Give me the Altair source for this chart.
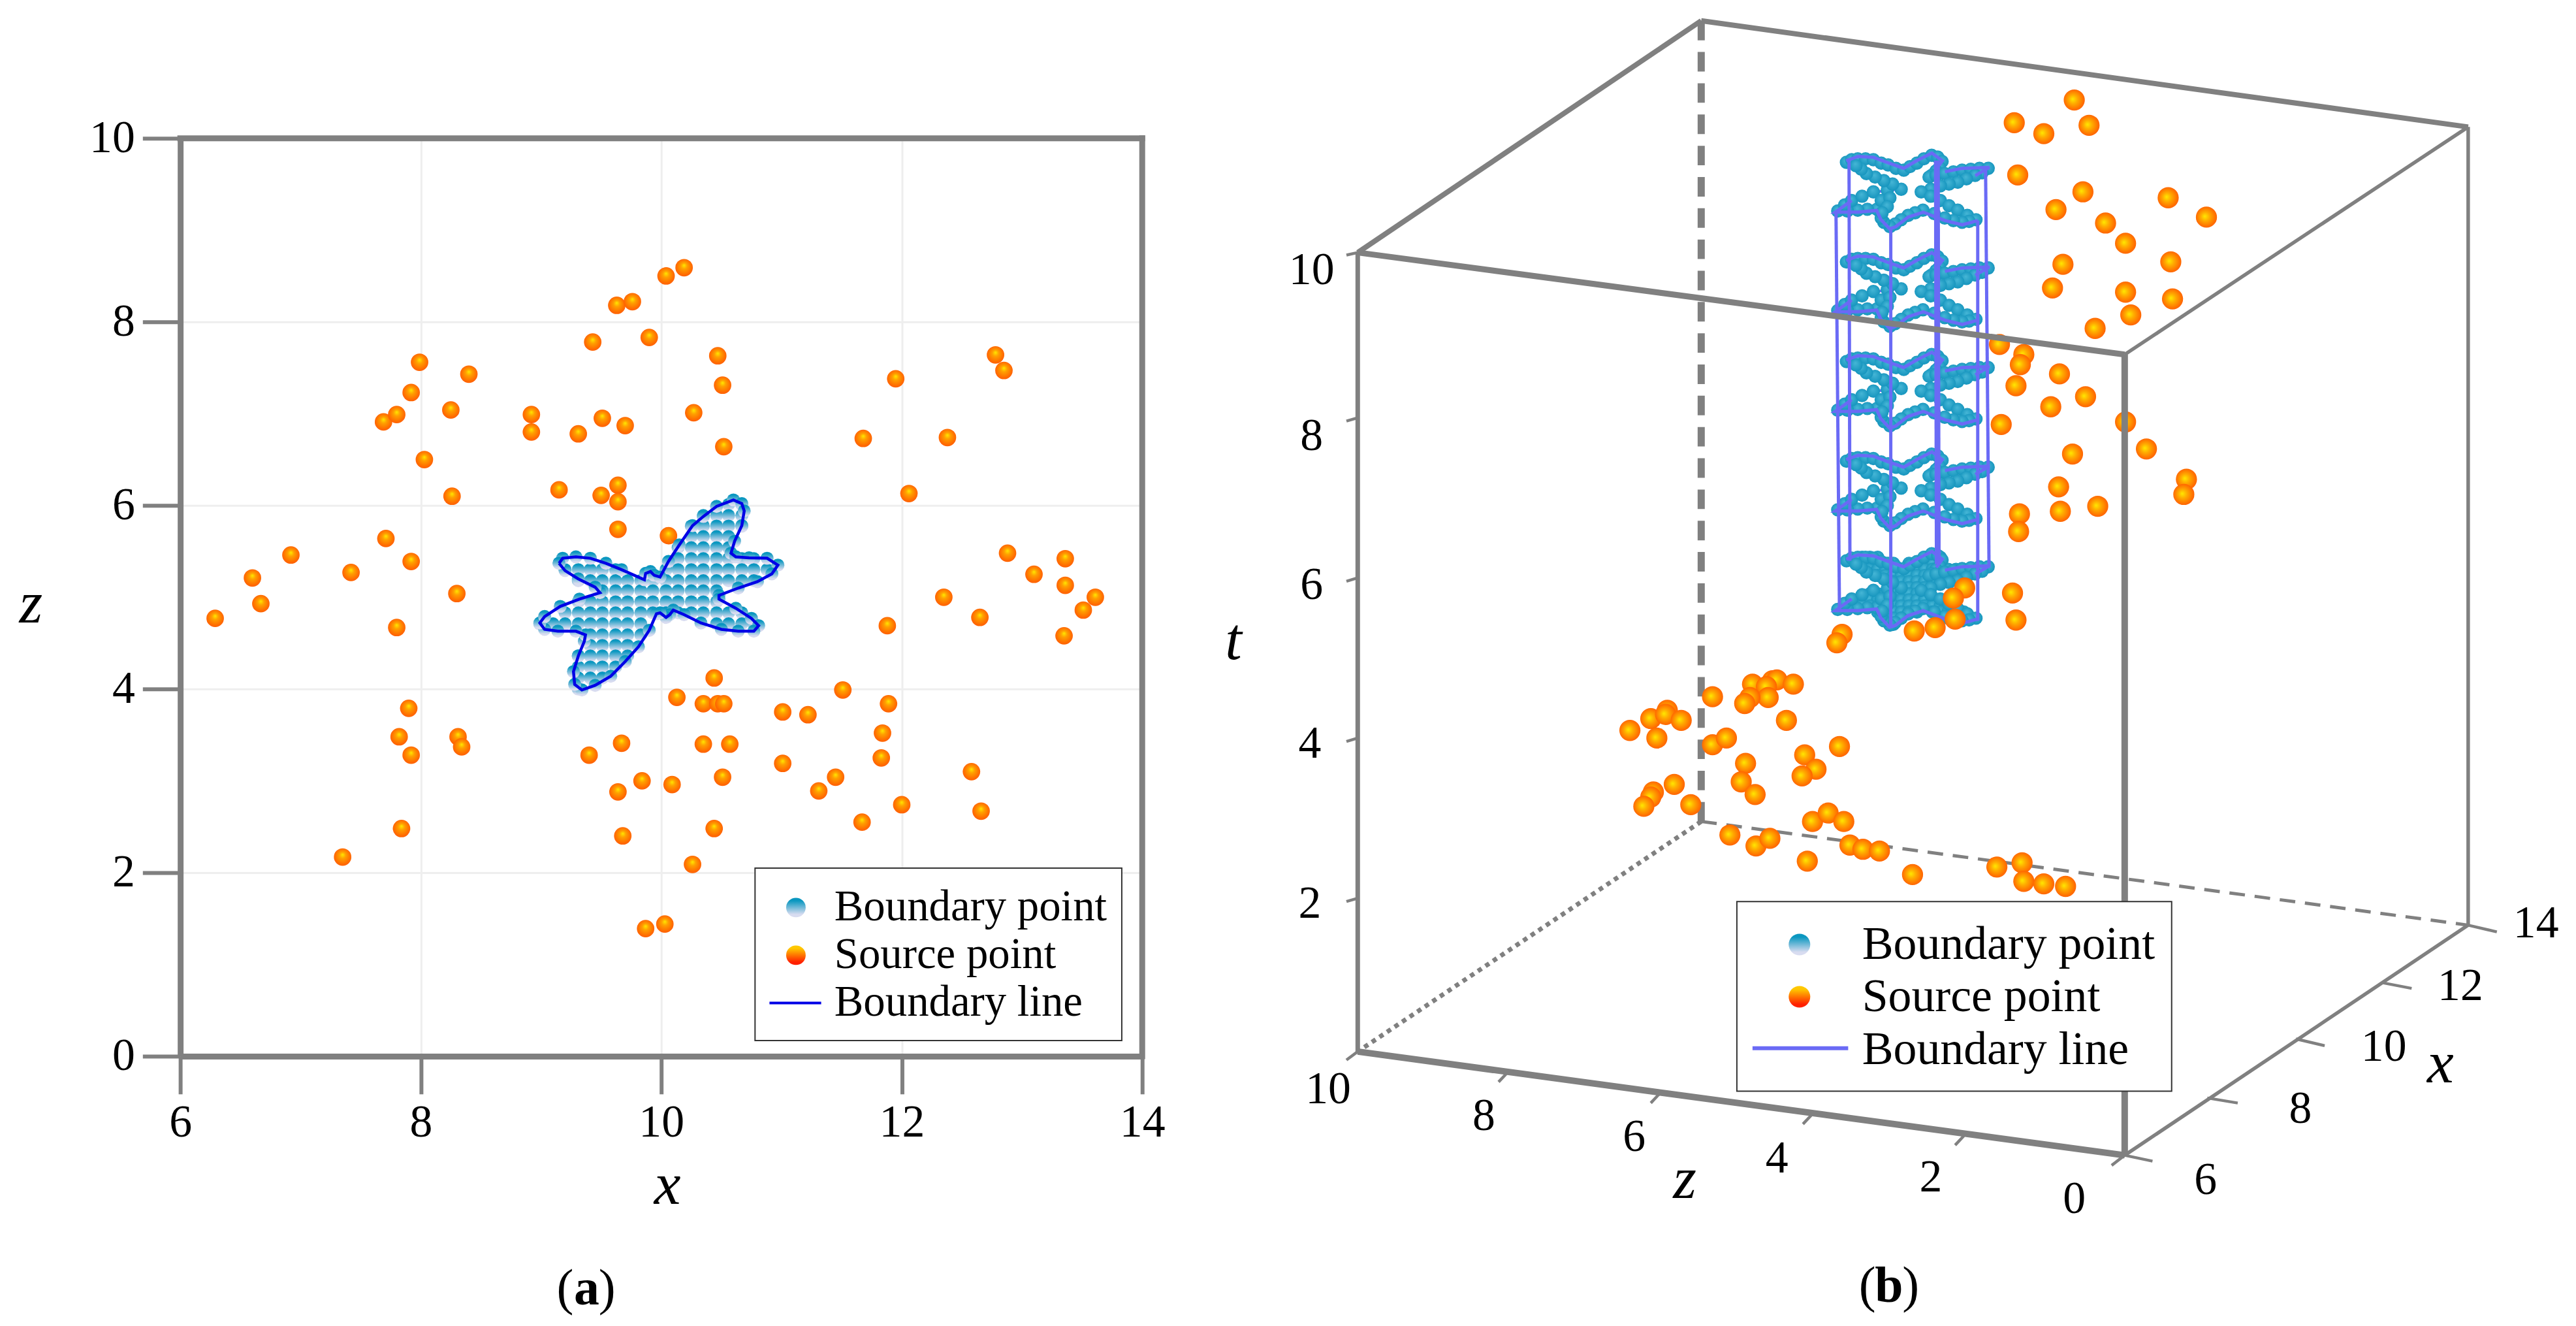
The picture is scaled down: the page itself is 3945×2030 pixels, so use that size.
import altair as alt
import pandas as pd

FONT = "Liberation Serif"
GRAY = "#808080"

# ---------- panel (a): values in x / z units ----------
source_x = [6.29,6.60,6.67,6.92,7.42,7.35,7.69,7.80,7.71,7.92,7.99,8.40,8.25,8.03,8.26,7.92,7.80,8.30,7.90,7.82,7.92,8.31,8.34,7.84,
            8.92,8.92,9.31,9.51,9.70,9.15,9.50,9.64,9.64,9.64,9.43,9.63,9.76,9.90,10.04,10.19,10.47,10.51,10.27,10.52,10.06,
            11.68,11.95,12.38,12.78,12.85,12.06,12.88,13.10,13.36,13.36,13.61,13.51,13.35,12.35,12.65,11.88,
            10.44,10.13,10.35,10.47,10.52,11.51,11.89,11.01,11.22,11.84,11.83,10.35,10.57,9.67,9.40,11.01,11.45,11.31,10.51,
            9.84,10.09,9.64,9.68,10.44,11.67,12.00,12.58,12.66,10.26,10.03,9.87]
source_z = [4.77,5.21,4.93,5.46,5.27,2.17,6.91,6.99,5.64,7.23,7.56,7.43,7.04,6.50,6.10,5.39,4.67,5.04,3.79,3.48,3.28,3.48,3.37,2.48,
            6.99,6.80,6.78,6.95,6.87,6.17,6.11,6.22,6.04,5.74,7.78,8.18,8.22,7.83,8.50,8.59,7.63,7.31,7.01,6.64,5.67,
            6.73,7.38,6.74,7.64,7.47,6.13,5.48,5.25,5.42,5.13,5.00,4.86,4.58,5.00,4.78,4.69,
            4.12,3.91,3.84,3.84,3.84,3.99,3.84,3.75,3.72,3.52,3.25,3.40,3.40,3.41,3.28,3.19,3.04,2.89,3.04,
            3.00,2.96,2.88,2.40,2.48,2.55,2.74,3.10,2.67,2.09,1.44,1.39]

outline_x = [9.15,9.18,9.29,9.41,9.54,9.67,9.86,9.87,9.91,9.94,9.99,10.06,10.15,10.26,10.35,10.46,10.60,10.67,10.69,10.67,10.61,10.58,10.62,
             10.73,10.88,10.97,10.92,10.80,10.64,10.48,10.48,10.62,10.75,10.81,10.77,10.64,10.50,10.33,10.19,10.10,10.07,10.04,9.99,9.96,
             9.90,9.81,9.70,9.58,9.45,9.34,9.28,9.27,9.31,9.36,9.37,9.29,9.14,9.03,8.99,9.03,9.16,9.32,9.49,9.45,9.31,9.20,9.15]
outline_z = [5.37,5.425,5.44,5.425,5.37,5.30,5.19,5.26,5.28,5.24,5.22,5.39,5.57,5.78,5.88,5.99,6.06,6.02,5.94,5.78,5.61,5.48,5.44,
             5.43,5.425,5.35,5.255,5.17,5.10,5.02,4.98,4.88,4.77,4.69,4.63,4.63,4.65,4.72,4.81,4.86,4.81,4.78,4.83,4.82,
             4.64,4.46,4.30,4.14,4.04,3.99,4.05,4.19,4.36,4.52,4.59,4.63,4.63,4.65,4.72,4.79,4.90,4.98,5.05,5.11,5.20,5.29,5.37]

grid_cols = [8.99,9.10,9.20,9.31,9.41,9.51,9.62,9.72,9.83,9.93,10.04,10.14,10.25,10.35,10.46,10.56,10.67,10.77,10.88]
grid_rows = [6.01,5.89,5.775,5.66,5.54,5.42,5.30,5.18,5.07,4.95,4.83,4.71,4.59,4.475,4.36,4.24,4.12,4.00]
grid_mask = [
    "...............##..",
    ".............####..",
    "............#####..",
    "............####...",
    "...........#####...",
    "...........#######.",
    "..#####...#########",
    "...###############.",
    ".....##########....",
    "...############....",
    "..###############..",
    "#########.....####.",
    "....#####..........",
    "....####...........",
    "...#####...........",
    "...####............",
    "...###.............",
    "...#...............",
]

legend_a = ["Boundary point", "Source point", "Boundary line"]

# ---------- panel (b): projected picture units (u, v) ----------
ball_u = [928,962,997,1014,932,976,1007,1033,1056,1105,1149,984,972,1108,1056,1110,1062,1021,
          911,939,935,930,980,1010,970,913,1056,1080,995,1126,1123,979,981,934,933,1024,
          926,930,871,858,860,837,813,730,724,
          581,627,650,655,674,643,645,624,618,666,486,510,529,527,545,517,581,597,727,687,619,700,684,614,630,537,513,510,502,556,
          696,714,732,601,631,647,690,739,754,773,811,908,937,939,962,987]
ball_v = [143,156,116,146,205,246,225,262,286,232,255,311,339,308,344,352,371,387,
          406,418,430,455,441,468,480,501,498,530,536,566,584,575,604,607,628,598,
          701,733,695,707,732,742,746,750,760,
          824,809,805,804,809,812,825,825,832,852,864,850,840,845,852,873,881,873,883,893,903,910,918,925,940,928,937,943,954,952,
          972,962,972,988,1001,992,1019,1000,1005,1007,1035,1026,1021,1043,1046,1049]

STAR_V = 1.0322  # the star lists below were read at a slightly different vertical picture scale
star_u = [734.7,748.5,765.9,783.4,800.8,815.8,833.3,845.3,838.3,829.5,848.3,868.2,899.4,883.2,863.2,843.3,820.8,843.3,863.2,886.2,
          868.2,848.3,823.3,805.8,790.9,784.6,774.6,769.7,748.5,722.3,741,765.9,798.4,778.4,758.4,746,734.7]
star_v = [182.2,177.2,178.3,184.8,190.9,182.2,173.4,182.2,191.7,199.3,194.8,190.9,189.8,199.3,207,210.8,218.4,228,239.4,250.9,
          255.8,250.9,241.3,247.1,258.5,260.4,249.7,239.4,241.3,241.3,228,218.4,214.6,205,197.4,187.9,182.2]
# the stretches of the outline that show in front of the balls
star_front = [(0,8),(10,13),(19,30)]
ring_u = [735,741,748,757,766,775,783,792,801,808,816,824,833,840,845,842,838,833,830,838,848,858,868,878,888,898,891,883,873,863,
          853,843,832,821,832,843,853,863,874,884,876,868,858,848,836,823,814,806,798,791,785,778,775,770,759,748,736,725,733,741,
          753,766,782,798,788,778,768,758,752,746,775,785,782,776]
ring_v = [184,181,180,180,181,185,187,191,193,189,185,180,176,178,183,190,194,199,201,199,197,195,193,192,191,191,196,199,203,207,
          209,211,215,218,223,228,234,239,245,250,252,253,251,248,243,239,242,245,250,255,258,253,248,238,238,239,240,240,233,228,
          223,218,216,215,209,205,201,197,192,188,228,225,235,242]
level_offsets = [0, 114.5, 229, 343.5, 458]

base_cols = [726,735,744,753,762,771,780,789,798,807,816,825,834,843,852,861,870,879,888,897]
base_rows = [180,187,194,201,208,215,222,229,236,243,250,257]
base_mask = [
    "...###.....###......",
    "...#####.####.......",
    "....#########.#####.",
    ".....############...",
    ".......########.....",
    "........####........",
    "....########........",
    "..############......",
    ".##############.....",
    ".....######.#####...",
    "......###.....####..",
    ".......#............",
]

# verticals: u_top, v_top, u_bottom, v_bottom, width
star_posts = [(723,241,727,700,5),(738,182,739,642,5),(786,260,786,718,5),(839,182,840,646,9),(886,251,886,711,5),(895,190,899,650,5)]

# picture-unit frame corners
A=(173,297); B=(1055,418); C=(1055,1368); D=(173,1245)
E=(568,22); F=(1450,148); G=(1450,1095); H=(568,972)

t_ticks = [(173,297,160,300),(173,493,160,497),(173,683,160,687),(173,873,160,877),(173,1063,160,1067)]
z_ticks = [(173,1245,160,1255),(345,1270,335,1281),(520,1295,510,1306),(695,1320,685,1331),(870,1345,860,1356),(1055,1368,1040,1380)]
x_ticks = [(1055,1368,1087,1375),(1150,1300,1185,1306),(1252,1230,1285,1238),(1350,1163,1385,1170),(1450,1095,1483,1103)]

tick_text = ["10","8","6","4","2","10","8","6","4","2","0","6","8","10","12","14"]
tick_text_u = [120,120,120,118,118,139,318,491,655,832,997,1148,1257,1353,1441,1528]
tick_text_v = [318,515,692,880,1070,1290,1322,1347,1372,1395,1420,1398,1313,1240,1168,1093]

# ---------- styles ----------
def radial(stops, fx=0.5, fy=0.4):
    return {"gradient":"radial","x1":fx,"y1":fy,"r1":0,"x2":0.5,"y2":0.5,"r2":0.6,
            "stops":[{"offset":o,"color":c} for o,c in stops]}
def vertical(c1,c2):
    return {"gradient":"linear","x1":0.5,"y1":0,"x2":0.5,"y2":1,
            "stops":[{"offset":0.15,"color":c1},{"offset":0.85,"color":c2}]}

ORANGE_A = radial([(0,"#ffe800"),(0.3,"#ffa000"),(0.7,"#ff7000"),(1,"#ff5000")],0.5,0.36)
ORANGE_B = radial([(0,"#ffe800"),(0.35,"#ffaa00"),(0.75,"#ff7000"),(1,"#ff5000")],0.42,0.46)
TEAL_A = vertical("#0a97c0","#d8dcf0")
TEAL_B = radial([(0,"#46b6d6"),(1,"#0f90ba")],0.45,0.35)

# ---------- panel (a) ----------
xs = alt.Scale(domain=[6,14], nice=False, zero=False)
zs = alt.Scale(domain=[0,10], nice=False, zero=False)
ax_common = dict(domainColor=GRAY, domainWidth=9, tickColor=GRAY, tickWidth=6, tickSize=58,
                 gridColor="#eeeeee", gridWidth=3, grid=True, labelFont=FONT, labelFontSize=70, labelColor="black",
                 labelFlush=False, labelOverlap=False, titleFont=FONT, titleFontSize=92, titleFontStyle="italic",
                 titleFontWeight="normal", titleColor="black", titleAngle=0, titleAlign="center", titleBaseline="middle")
X = alt.X("x:Q", scale=xs, axis=alt.Axis(values=[6,8,10,12,14], format="d", title="x", labelPadding=10, titleX=748, titleY=198, **ax_common))
Z = alt.Y("z:Q", scale=zs, axis=alt.Axis(values=[0,2,4,6,8,10], format="d", title="z", labelPadding=12, titleX=-230, titleY=715, **ax_common))

def grid_points(cols, rows, mask):
    return [(cols[j], r) for r, m in zip(rows, mask) for j, ch in enumerate(m) if ch == "#"]

gp = grid_points(grid_cols, grid_rows, grid_mask)
df_fill = pd.DataFrame(gp + list(zip(outline_x, outline_z)), columns=["x","z"])
df_src = pd.DataFrame({"x":source_x,"z":source_z})
df_out = pd.DataFrame({"x":outline_x,"z":outline_z,"seq":range(len(outline_x))})

base_a = alt.Chart(df_src).mark_circle(size=720, opacity=1, fill=ORANGE_A).encode(x=X, y=Z)
fill_a = alt.Chart(df_fill).mark_circle(size=400, opacity=1, fill=TEAL_A).encode(x=X, y=Z)
line_a = alt.Chart(df_out).mark_line(color="#0000e6", strokeWidth=4.5).encode(x=X, y=Z, order="seq:Q")
frame_a = alt.Chart(pd.DataFrame({"x":[6,14],"z":[10,0],"x2":[14,14],"z2":[10,10]})).mark_rule(
    color=GRAY, strokeWidth=9, strokeCap="square").encode(x=X, y=Z, x2="x2:Q", y2="z2:Q")
box_a = alt.Chart(pd.DataFrame({"x":[10.78],"x2":[13.83],"z":[2.05],"z2":[0.17]})).mark_rect(
    fill="white", stroke="#333333", strokeWidth=2).encode(x=X, y=Z, x2="x2:Q", y2="z2:Q")
sym_a1 = alt.Chart(pd.DataFrame({"x":[11.12],"z":[1.62]})).mark_circle(size=900, opacity=1, fill=TEAL_A).encode(x=X, y=Z)
sym_a2 = alt.Chart(pd.DataFrame({"x":[11.12],"z":[1.10]})).mark_circle(size=900, opacity=1, fill=vertical("#ffc800","#ff2000")).encode(x=X, y=Z)
sym_a3 = alt.Chart(pd.DataFrame({"x":[10.90],"x2":[11.33],"z":[0.58]})).mark_rule(color="#0000e6", strokeWidth=4).encode(x=X, y=Z, x2="x2:Q")
txt_a = alt.Chart(pd.DataFrame({"x":[11.44]*3,"z":[1.62,1.10,0.58],"t":legend_a})).mark_text(
    font=FONT, fontSize=67, align="left", baseline="middle", color="black").encode(x=X, y=Z, text="t:N")
cap_a = alt.Chart(pd.DataFrame({"x":[9.20,9.55],"z":[-2.54,-2.54],"t":["(",")"]})).mark_text(
    font=FONT, fontSize=78, baseline="middle", color="black").encode(x=X, y=Z, text="t:N")
cap_a2 = alt.Chart(pd.DataFrame({"x":[9.38],"z":[-2.54],"t":["a"]})).mark_text(
    font=FONT, fontSize=78, fontWeight="bold", baseline="middle", color="black").encode(x=X, y=Z, text="t:N")

panel_a = alt.layer(base_a, frame_a, fill_a, line_a, box_a, sym_a1, sym_a2, sym_a3, txt_a, cap_a, cap_a2).properties(width=1478, height=1410)

# ---------- panel (b) ----------
us = alt.Scale(domain=[0,1568], nice=False, zero=False)
vs = alt.Scale(domain=[1250.5,161.4], nice=False, zero=False)
U = alt.X("u:Q", scale=us, axis=None)
V = alt.Y("v:Q", scale=vs, axis=None)

def seg(pairs, **mark):
    df = pd.DataFrame([(a[0],a[1],b[0],b[1]) for a,b in pairs], columns=["u","v","u2","v2"])
    return alt.Chart(df).mark_rule(color=mark.pop("color",GRAY), **mark).encode(x=U, y=V, x2="u2:Q", y2="v2:Q")

back = [
    seg([(E,H)], strokeWidth=11, strokeDash=[30,18]),
    seg([(H,D)], strokeWidth=7, strokeDash=[7,7]),
    seg([(H,G)], strokeWidth=5, strokeDash=[24,15]),
]
posts = [seg([((a,b*STAR_V),(c,d*STAR_V))], strokeWidth=w, color="#6a6af5") for a,b,c,d,w in star_posts]

ring_rows = []; line_rows = []; front_rows = []
for off in level_offsets[:4]:
    ring_rows += [(u, (v+off)*STAR_V) for u,v in zip(ring_u, ring_v)]
for off in level_offsets:
    pts = list(zip(star_u, star_v))
    line_rows += [(off, i, u, (v+off)*STAR_V) for i,(u,v) in enumerate(pts)]
    for a,b in star_front:
        front_rows += [(f"{off}-{a}", i, pts[i][0], (pts[i][1]+off)*STAR_V) for i in range(a,b+1)]
base_pts = [(u, (v+level_offsets[-1])*STAR_V) for u,v in grid_points(base_cols, base_rows, base_mask)]
df_ring = pd.DataFrame(ring_rows + base_pts + [(u, (v+458)*STAR_V) for u,v in zip(ring_u, ring_v)], columns=["u","v"])
df_line = pd.DataFrame(line_rows, columns=["lvl","seq","u","v"])
df_front = pd.DataFrame(front_rows, columns=["lvl","seq","u","v"])

balls_star = alt.Chart(df_ring).mark_circle(size=420, opacity=1, fill=TEAL_B).encode(x=U, y=V)
line_star = alt.Chart(df_line).mark_line(color="#6a6af5", strokeWidth=4).encode(x=U, y=V, detail="lvl:N", order="seq:Q")
line_front = alt.Chart(df_front).mark_line(color="#6a6af5", strokeWidth=5).encode(x=U, y=V, detail="lvl:N", order="seq:Q")
balls_src = alt.Chart(pd.DataFrame({"u":ball_u,"v":ball_v})).mark_circle(size=1050, opacity=1, fill=ORANGE_B).encode(x=U, y=V)

front = [
    seg([(A,B)], strokeWidth=9),
    seg([(B,C)], strokeWidth=10),
    seg([(D,A)], strokeWidth=7),
    seg([(D,C)], strokeWidth=10),
    seg([(A,E),(E,F)], strokeWidth=8),
    seg([(F,B),(F,G),(C,G)], strokeWidth=5.5),
    seg([((a,b),(c,d)) for a,b,c,d in t_ticks], strokeWidth=4.5),
    seg([((a,b),(c,d)) for a,b,c,d in z_ticks], strokeWidth=4.5),
    seg([((a,b),(c,d)) for a,b,c,d in x_ticks], strokeWidth=4.5),
]
labels_b = alt.Chart(pd.DataFrame({"u":tick_text_u,"v":tick_text_v,"t":tick_text})).mark_text(
    font=FONT, fontSize=70, baseline="middle", color="black").encode(x=U, y=V, text="t:N")
titles_b = alt.Chart(pd.DataFrame({"u":[30,549,1418],"v":[758,1397,1260],"t":["t","z","x"]})).mark_text(
    font=FONT, fontSize=92, fontStyle="italic", baseline="middle", color="black").encode(x=U, y=V, text="t:N")
box_b = alt.Chart(pd.DataFrame({"u":[609],"u2":[1109],"v":[1067],"v2":[1292]})).mark_rect(
    fill="white", stroke="#333333", strokeWidth=2).encode(x=U, y=V, x2="u2:Q", y2="v2:Q")
sym_b1 = alt.Chart(pd.DataFrame({"u":[681],"v":[1118]})).mark_circle(size=1100, opacity=1, fill=TEAL_A).encode(x=U, y=V)
sym_b2 = alt.Chart(pd.DataFrame({"u":[681],"v":[1180]})).mark_circle(size=1100, opacity=1, fill=vertical("#ffc800","#ff2000")).encode(x=U, y=V)
sym_b3 = alt.Chart(pd.DataFrame({"u":[627],"u2":[737],"v":[1241]})).mark_rule(color="#6a6af5", strokeWidth=6).encode(x=U, y=V, x2="u2:Q")
txt_b = alt.Chart(pd.DataFrame({"u":[753]*3,"v":[1118,1180,1243],"t":legend_a})).mark_text(
    font=FONT, fontSize=72, align="left", baseline="middle", color="black").encode(x=U, y=V, text="t:N")
cap_b = alt.Chart(pd.DataFrame({"u":[759,809],"v":[1524,1524],"t":["(",")"]})).mark_text(
    font=FONT, fontSize=78, baseline="middle", color="black").encode(x=U, y=V, text="t:N")
cap_b2 = alt.Chart(pd.DataFrame({"u":[784],"v":[1524],"t":["b"]})).mark_text(
    font=FONT, fontSize=78, fontWeight="bold", baseline="middle", color="black").encode(x=U, y=V, text="t:N")

panel_b = alt.layer(*back, line_star, balls_star, *posts, line_front, balls_src, *front, labels_b, titles_b,
                    box_b, sym_b1, sym_b2, sym_b3, txt_b, cap_b, cap_b2).properties(width=2095, height=1410)

chart = alt.hconcat(panel_a, panel_b, spacing=100, bounds="flush").properties(
    padding={"left":21,"top":15,"right":0,"bottom":0}, background="white"
).configure_view(stroke=None)

chart.save("out.html", embed_options={"renderer":"svg","actions":False})
